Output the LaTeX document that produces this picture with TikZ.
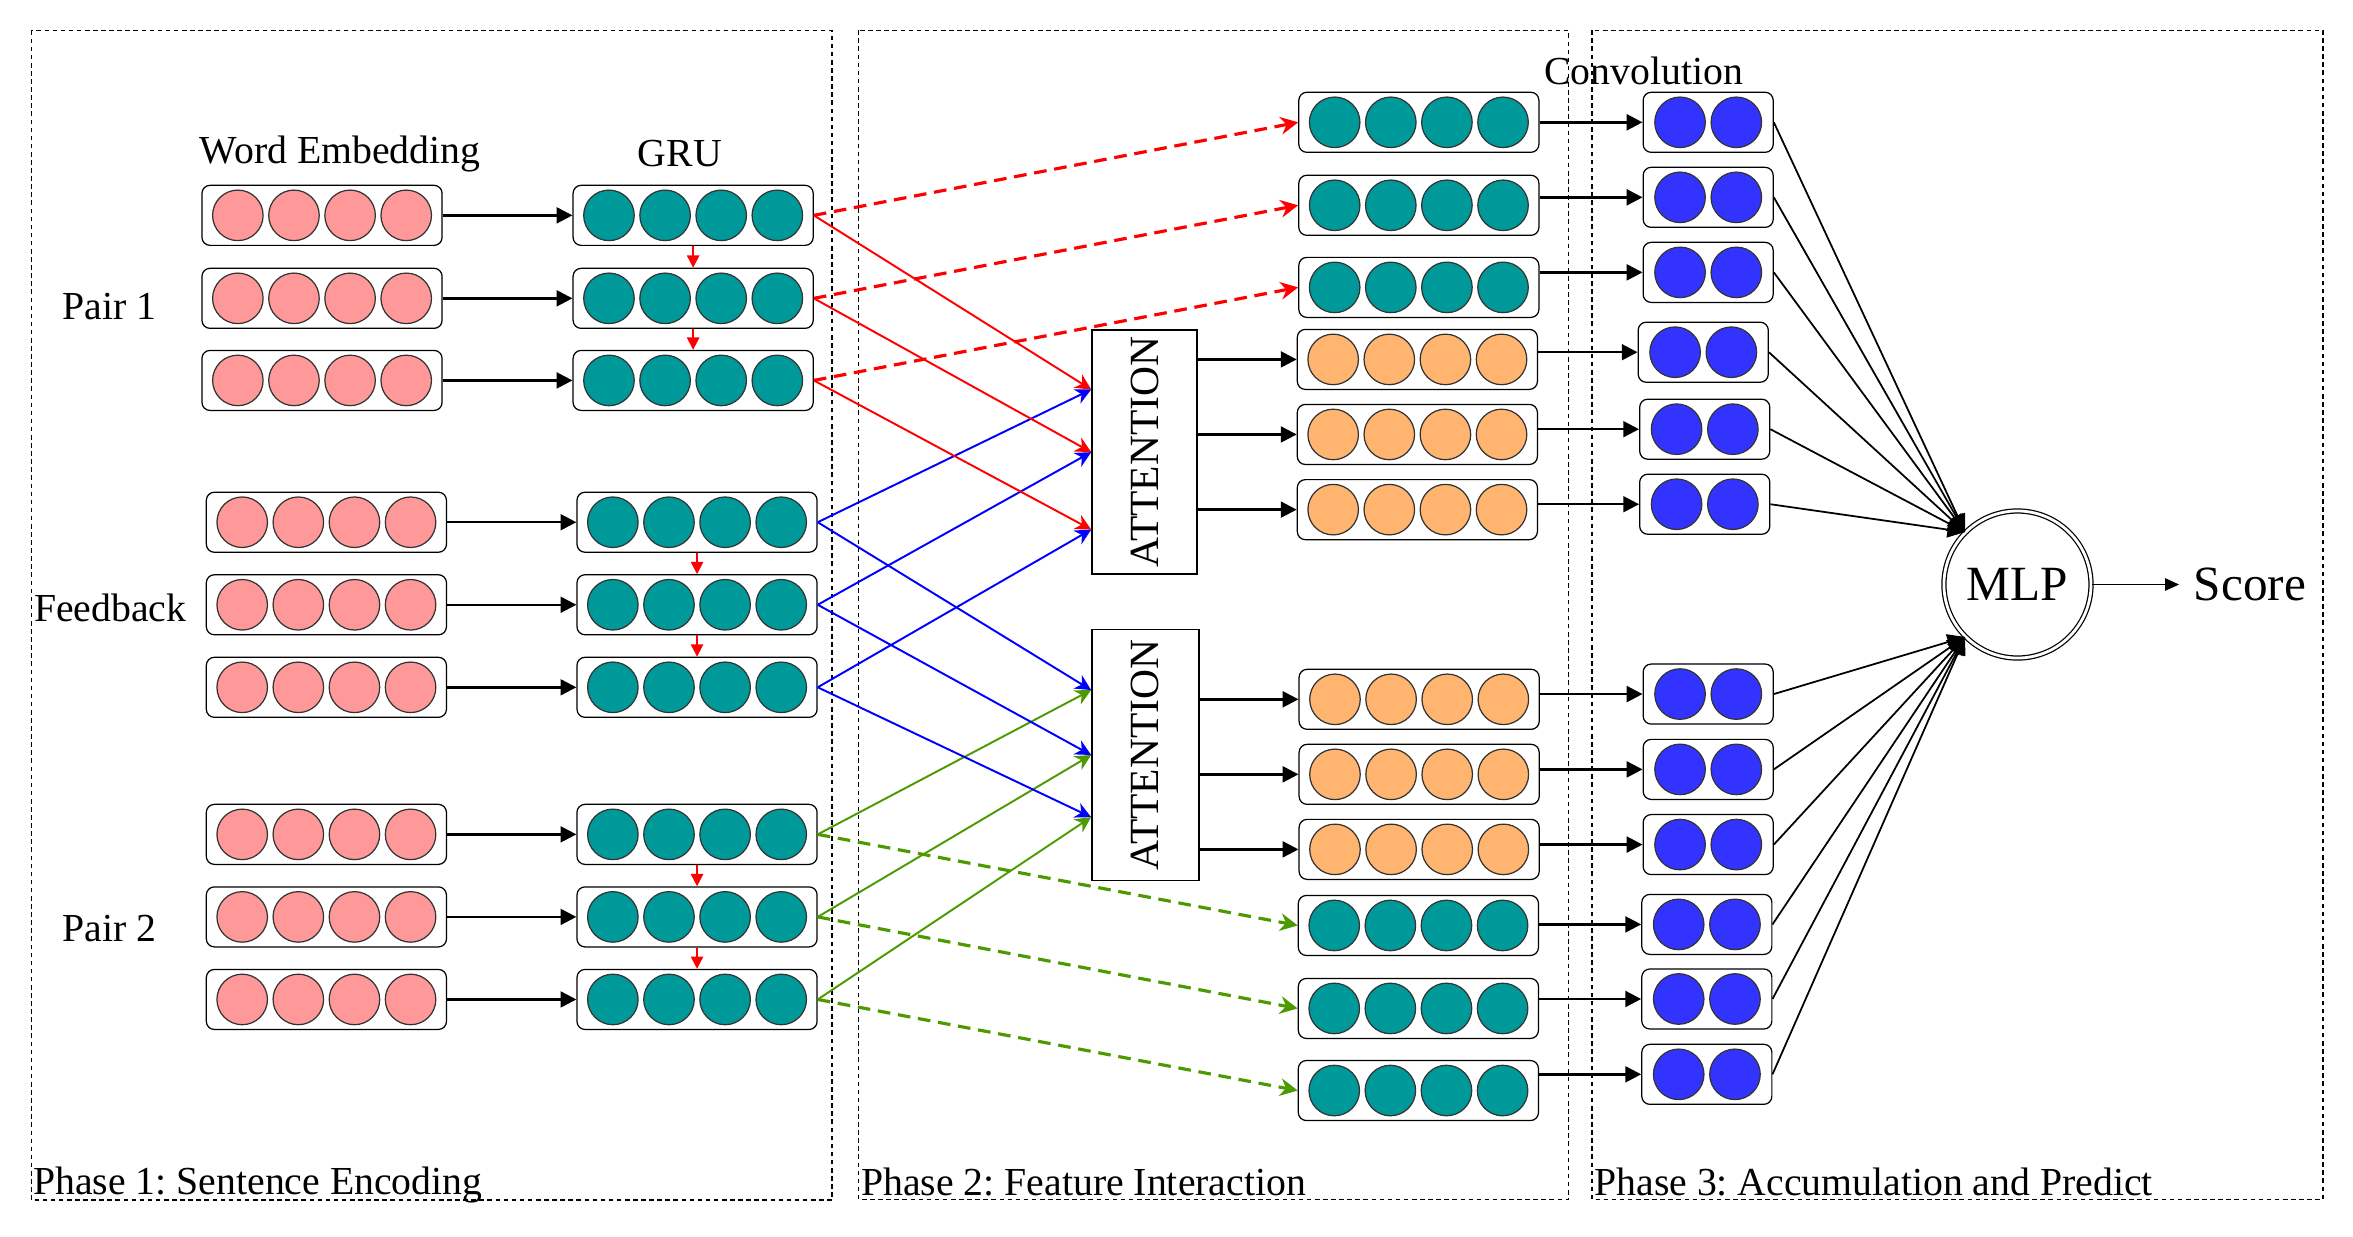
\documentclass[tikz,border=0pt]{standalone}
\usepackage{fontspec}
\setmainfont{Liberation Serif}
\usetikzlibrary{arrows.meta,calc}
\definecolor{pinkc}{HTML}{FF9999}
\definecolor{tealc}{HTML}{009999}
\definecolor{orangec}{HTML}{FFB570}
\definecolor{bluec}{HTML}{3333FF}
\definecolor{greenc}{HTML}{4D9A00}
\tikzset{
  vbox4/.style={draw, rounded corners=0.08cm, line width=0.35pt, minimum width=2.4cm, minimum height=0.6cm, inner sep=0pt, fill=white},
  vbox2/.style={draw, rounded corners=0.08cm, line width=0.35pt, minimum width=1.3cm, minimum height=0.6cm, inner sep=0pt, fill=white},
  cell/.style={circle, draw=black!80, line width=0.35pt, minimum size=0.505cm, inner sep=0pt},
  attbox/.style={draw, line width=0.45pt, inner sep=0pt, font=\fontsize{11.8}{13}\selectfont},
  lbl/.style={font=\fontsize{11.3}{13.5}\selectfont, inner sep=0pt},
  phasebox/.style={draw, line width=0.4pt, dash pattern=on 1.3pt off 1pt},
  blk/.style={-{Triangle[length=4.5pt,width=4.5pt]}, line width=0.7pt},
  redv/.style={-{Triangle[length=3.5pt,width=3.5pt]}, line width=0.5pt, red},
  link/.style={-{Stealth[length=4.5pt,width=4.5pt]}, line width=0.55pt},
  dlink/.style={-{Stealth[length=5pt,width=5pt]}, line width=0.9pt, dash pattern=on 3.6pt off 2.2pt},
  mlpin/.style={-{Triangle[length=5pt,width=4.5pt]}, line width=0.5pt},
}
\newcommand{\vecfour}[4]{%
  \node[vbox4] (#1) at (#2,#3) {};
  \foreach \dx [count=\i] in {-56.1,-18.7,18.7,56.1}{\node[cell,fill=#4] (#1-\i) at ($(#1.center)+(\dx,0)$) {};}
}
\newcommand{\vectwo}[3]{%
  \node[vbox2] (#1) at (#2,#3) {};
  \foreach \dx [count=\i] in {-18.75,18.75}{\node[cell,fill=bluec] (#1-\i) at ($(#1.center)+(\dx,0)$) {};}
}
\begin{document}
\frenchspacing
\begin{tikzpicture}[x=0.015006cm, y=-0.015006cm]
\useasboundingbox (0,0) rectangle (1568,824);
% phase frames
\draw[phasebox] (20.9,20.4) rectangle (554.4,799.7);
\draw[phasebox] (572.2,20.2) rectangle (1045.3,799.4);
\draw[phasebox] (1061,20.2) rectangle (1548,799.4);
\node[lbl, anchor=base west] (ph1) at (21.7,796.3) {Phase 1: Sentence Encoding};
\node[lbl, anchor=base west] (ph2) at (573.5,796.8) {Phase 2: Feature Interaction};
\node[lbl, anchor=base west] (ph3) at (1062,796.8) {Phase 3: Accumulation and Predict};
% labels
\node[lbl, anchor=base] (we) at (226.7,109) {Word Embedding};
\node[lbl, anchor=base] (gru) at (453,111) {GRU};
\node[lbl, anchor=base] (conv) at (1095.3,56.6) {Convolution};
\node[lbl, anchor=base] (p1) at (73.1,213) {Pair 1};
\node[lbl, anchor=base] (fb) at (73.5,414) {Feedback};
\node[lbl, anchor=base] (p2) at (73.1,627.5) {Pair 2};
% phase 1 vectors
\vecfour{w11}{214.6}{143.5}{pinkc}
\vecfour{w12}{214.6}{198.8}{pinkc}
\vecfour{w13}{214.6}{253.5}{pinkc}
\vecfour{g11}{461.9}{143.5}{tealc}
\vecfour{g12}{461.9}{198.8}{tealc}
\vecfour{g13}{461.9}{253.5}{tealc}
\vecfour{w21}{217.5}{348}{pinkc}
\vecfour{w22}{217.5}{403}{pinkc}
\vecfour{w23}{217.5}{458}{pinkc}
\vecfour{g21}{464.5}{348}{tealc}
\vecfour{g22}{464.5}{403}{tealc}
\vecfour{g23}{464.5}{458}{tealc}
\vecfour{w31}{217.5}{556}{pinkc}
\vecfour{w32}{217.5}{611}{pinkc}
\vecfour{w33}{217.5}{666}{pinkc}
\vecfour{g31}{464.5}{556}{tealc}
\vecfour{g32}{464.5}{611}{tealc}
\vecfour{g33}{464.5}{666}{tealc}
\foreach \g in {1,2,3}{
  \foreach \r in {1,2,3}{\draw[blk] (w\g\r.east) -- (g\g\r.west);}
  \draw[redv] (g\g1.south) -- (g\g2.north);
  \draw[redv] (g\g2.south) -- (g\g3.north);
}
% phase 2 vectors
\vecfour{t1}{945.5}{81.5}{tealc}
\vecfour{t2}{945.5}{136.8}{tealc}
\vecfour{t3}{945.5}{191.5}{tealc}
\vecfour{o1}{944.5}{239.5}{orangec}
\vecfour{o2}{944.5}{289.5}{orangec}
\vecfour{o3}{944.5}{339.6}{orangec}
\vecfour{o4}{945.7}{466}{orangec}
\vecfour{o5}{945.7}{516}{orangec}
\vecfour{o6}{945.7}{566}{orangec}
\vecfour{t4}{945.2}{616.7}{tealc}
\vecfour{t5}{945.2}{672}{tealc}
\vecfour{t6}{945.2}{726.7}{tealc}
% attention
\node[attbox, minimum width=1.05cm, minimum height=2.44cm] (att1) at (762.7,301.3) {\rotatebox{90}{ATTENTION}};
\node[attbox, minimum width=1.07cm, minimum height=2.51cm] (att2) at (763.3,503.1) {\rotatebox{90}{ATTENTION}};
\coordinate (a1p1) at ($(att1.north west)!0.245!(att1.south west)$);
\coordinate (a1p2) at ($(att1.north west)!0.5!(att1.south west)$);
\coordinate (a1p3) at ($(att1.north west)!0.815!(att1.south west)$);
\coordinate (a2p1) at ($(att2.north west)!0.243!(att2.south west)$);
\coordinate (a2p2) at ($(att2.north west)!0.5!(att2.south west)$);
\coordinate (a2p3) at ($(att2.north west)!0.746!(att2.south west)$);
\foreach \r in {1,2,3}{
  \draw[dlink, red] (g1\r.east) -- (t\r.west);
  \draw[link, red] (g1\r.east) -- (a1p\r);
  \draw[link, blue] (g2\r.east) -- (a1p\r);
  \draw[link, blue] (g2\r.east) -- (a2p\r);
  \draw[link, greenc] (g3\r.east) -- (a2p\r);
}
\draw[dlink, greenc] (g31.east) -- (t4.west);
\draw[dlink, greenc] (g32.east) -- (t5.west);
\draw[dlink, greenc] (g33.east) -- (t6.west);
\draw[blk] (att1.east |- o1.west) -- (o1.west);
\draw[blk] (att1.east |- o2.west) -- (o2.west);
\draw[blk] (att1.east |- o3.west) -- (o3.west);
\draw[blk] (att2.east |- o4.west) -- (o4.west);
\draw[blk] (att2.east |- o5.west) -- (o5.west);
\draw[blk] (att2.east |- o6.west) -- (o6.west);
% phase 3 conv vectors
\vectwo{c1}{1138.3}{81.5}
\vectwo{c2}{1138.3}{131.5}
\vectwo{c3}{1138.3}{181.5}
\vectwo{c4}{1135}{234.7}
\vectwo{c5}{1136}{286}
\vectwo{c6}{1136}{336}
\vectwo{c7}{1138.3}{462.5}
\vectwo{c8}{1138.3}{512.7}
\vectwo{c9}{1138.3}{562.8}
\vectwo{c10}{1137.4}{616}
\vectwo{c11}{1137.4}{665.7}
\vectwo{c12}{1137.4}{715.9}
\draw[blk] (t1.east |- c1.west) -- (c1.west);
\draw[blk] (t2.east |- c2.west) -- (c2.west);
\draw[blk] (t3.east |- c3.west) -- (c3.west);
\draw[blk] (o1.east |- c4.west) -- (c4.west);
\draw[blk] (o2.east |- c5.west) -- (c5.west);
\draw[blk] (o3.east |- c6.west) -- (c6.west);
\draw[blk] (o4.east |- c7.west) -- (c7.west);
\draw[blk] (o5.east |- c8.west) -- (c8.west);
\draw[blk] (o6.east |- c9.west) -- (c9.west);
\draw[blk] (t4.east |- c10.west) -- (c10.west);
\draw[blk] (t5.east |- c11.west) -- (c11.west);
\draw[blk] (t6.east |- c12.west) -- (c12.west);
% MLP
\node[circle, draw, double, double distance=0.8pt, line width=0.35pt, minimum size=1.47cm, inner sep=0pt, font=\fontsize{14}{16}\selectfont] (mlp) at (1344.4,389.5) {MLP};
\node[font=\fontsize{14}{16}\selectfont, inner sep=4pt] (score) at (1499.3,389.5) {Score};
\foreach \k in {1,...,6}{\draw[mlpin] (c\k.east) -- (mlp.135);}
\foreach \k in {7,...,12}{\draw[mlpin] (c\k.east) -- (mlp.225);}
\draw[-{Triangle[length=4pt,width=3.5pt]}, line width=0.5pt] (mlp.east) -- (score.west);
\end{tikzpicture}
\end{document}
